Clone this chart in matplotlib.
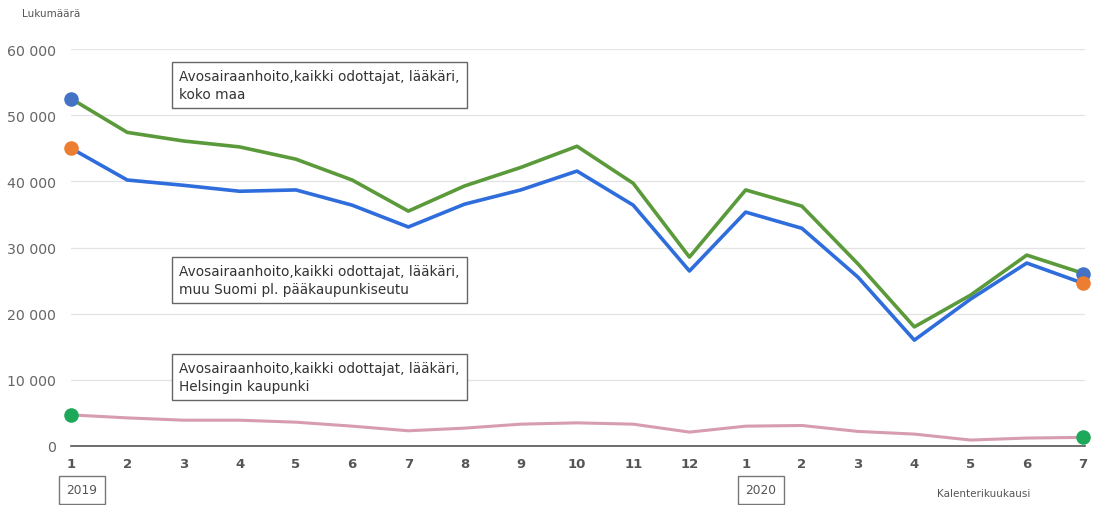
import matplotlib
matplotlib.use("Agg")
import matplotlib.pyplot as plt

months = ["1","2","3","4","5","6","7","8","9","10","11","12","1","2","3","4","5","6","7"]
years = ["2019", "2020"]
koko_maa = [52500, 47400, 46100, 45200, 43350, 40200, 35500, 39300, 42100, 45300, 39700, 28550,
            38700, 36250, 27500, 18000, 22800, 28850, 26100]
muu_suomi = [45000, 40200, 39400, 38500, 38700, 36400, 33100, 36550, 38700, 41550, 36400, 26450,
             35350, 32900, 25500, 16000, 22200, 27650, 24600]
helsinki = [4700, 4250, 3900, 3900, 3600, 3000, 2300, 2700, 3300, 3500, 3300, 2100,
            3000, 3100, 2200, 1800, 900, 1200, 1300]
labels = ["Avosairaanhoito,kaikki odottajat, lääkäri,\nkoko maa",
          "Avosairaanhoito,kaikki odottajat, lääkäri,\nmuu Suomi pl. pääkaupunkiseutu",
          "Avosairaanhoito,kaikki odottajat, lääkäri,\nHelsingin kaupunki"]
yticks = [0, 10000, 20000, 30000, 40000, 50000, 60000]
yticklabels = ["0", "10 000", "20 000", "30 000", "40 000", "50 000", "60 000"]

plt.rcParams['font.family'] = ['DejaVu Sans']
fig = plt.figure(figsize=(10.99, 5.06), dpi=100)
ax = fig.add_axes([71/1099, 1-447/506, (1085-71)/1099, (447-50)/506])
x = list(range(len(months)))

ax.plot(x, koko_maa, color="#5a9a3a", lw=2.6, zorder=3, solid_joinstyle="round")
ax.plot(x, muu_suomi, color="#2e6ddb", lw=2.6, zorder=3, solid_joinstyle="round")
ax.plot(x, helsinki, color="#d79cb0", lw=2.2, zorder=3, solid_joinstyle="round")

mk = dict(s=110, zorder=5, clip_on=False, linewidths=0)
ax.scatter([x[0], x[-1]], [koko_maa[0], 26000], color="#4472c4", **mk)
ax.scatter([x[0], x[-1]], [muu_suomi[0], muu_suomi[-1]], color="#ed7d31", **mk)
ax.scatter([x[0], x[-1]], [helsinki[0], helsinki[-1]], color="#1ea85a", **mk)

ax.set_xlim(0, (1085-71)/((1083-71)/18))
ax.set_ylim(0, 60000)
ax.set_yticks(yticks)
ax.set_yticklabels(yticklabels, color="#666666", fontsize=10.2)
ax.set_xticks(x)
ax.set_xticklabels(months, color="#555555", fontsize=9.5, fontweight="bold")
ax.tick_params(length=0, axis='y', pad=11)
ax.tick_params(length=0, axis='x', pad=8)
for s in ["top", "right", "left"]:
    ax.spines[s].set_visible(False)
ax.spines["bottom"].set_color("#555555")
ax.spines["bottom"].set_linewidth(1.2)
ax.spines["bottom"].set_zorder(2)
ax.grid(axis="y", color="#e3e3e3", lw=0.9)
ax.set_axisbelow(True)

box = dict(boxstyle="square,pad=0.55", fc="white", ec="#666666", lw=1.0)
for lab, yc in zip(labels, [86, 281, 378]):
    fig.text(179/1099, 1-yc/506, lab, fontsize=9.8, color="#333333", va="center", ha="left",
             bbox=box, linespacing=1.3, zorder=6)

ybox = dict(boxstyle="square,pad=0.6", fc="white", ec="#777777", lw=1.0)
fig.text(82/1099, 1-491/506, years[0], fontsize=8.8, color="#555555", ha="center", va="center", bbox=ybox)
fig.text(761/1099, 1-491/506, years[1], fontsize=8.8, color="#555555", ha="center", va="center", bbox=ybox)

fig.text(22/1099, 1-14/506, "Lukumäärä", fontsize=7.5, color="#555555", ha="left", va="center")
fig.text(984/1099, 1-494/506, "Kalenterikuukausi", fontsize=7.5, color="#555555", ha="center", va="center")

fig.savefig("out.png", dpi=100)
